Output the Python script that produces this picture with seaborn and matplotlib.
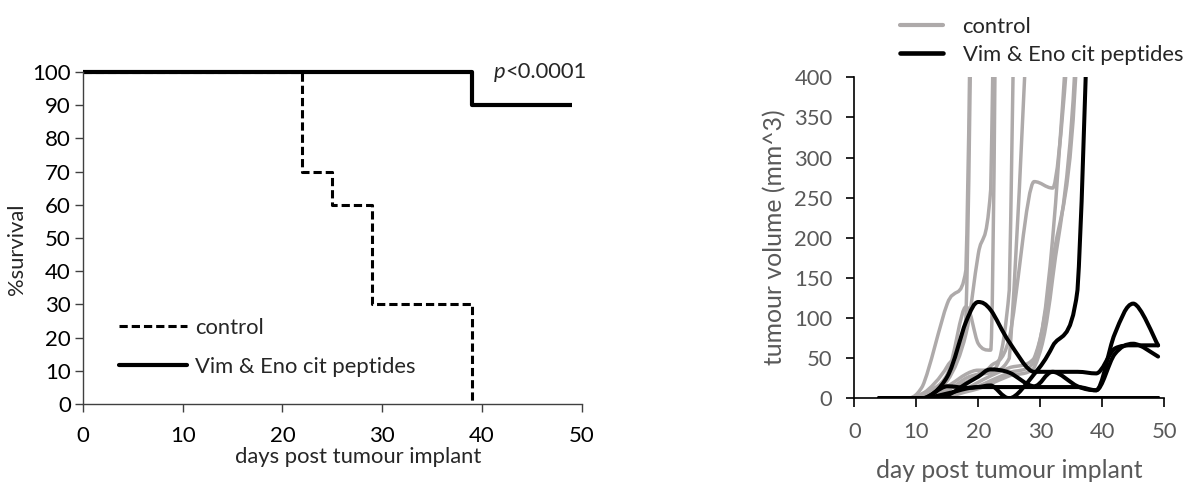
import numpy as np
import pandas as pd
import matplotlib
matplotlib.use("Agg")
import matplotlib.pyplot as plt
import seaborn as sns
from matplotlib.path import Path
from matplotlib.patches import PathPatch
from matplotlib.lines import Line2D

# ---------------- data ----------------
groups = ["control", "Vim & Eno cit peptides"]

# Kaplan-Meier survival (step plot)
ctrl_surv_days = [0, 22, 25, 29, 39]
ctrl_surv_pct = [100, 70, 60, 30, 0]
trt_surv_days = [0, 39, 49]
trt_surv_pct = [100, 90, 90]
p_label = "<0.0001"

# Tumour growth per mouse (mm^3); a series stops once the mouse is culled
tumour_days = [4, 8, 11, 15, 18, 20, 22, 25, 29, 32, 36, 39, 42, 45, 49]

ctrl_1 = [0, 0, 15, 118, 160, 1400]
ctrl_2 = [0, 0, 5, 40, 100, 1300]
ctrl_3 = [0, 0, 6, 30, 114, 68, 60, 3000]
ctrl_4 = [0, 0, 3, 22, 80, 180, 260, 2000]
ctrl_5 = [0, 0, 2, 15, 30, 35, 35, 135, 2500]
ctrl_6 = [0, 0, 2, 10, 25, 30, 32, 50, 650]
ctrl_7 = [0, 0, 2, 12, 20, 30, 40, 75, 270, 262, 600]
ctrl_8 = [0, 0, 0, 5, 12, 20, 28, 38, 50, 170, 450, 1500]
ctrl_9 = [0, 0, 0, 3, 10, 15, 22, 32, 45, 200, 650]
ctrl_10 = [0, 0, 0, 2, 8, 12, 18, 28, 38, 150, 480, 1500]

trt_1 = [0, 0, 0, 27, 95, 120, 110, 70, 33, 33, 33, 31, 62, 66, 66]
trt_2 = [0, 0, 0, 4, 18, 27, 36, 32, 15, 33, 15, 10, 80, 118, 66]
trt_3 = [0, 0, 0, 6, 12, 14, 14, 14, 14, 14, 14, 10, 55, 68, 52]
trt_4 = [0, 0, 0, 15, 13, 14, 16, 0, 30, 65, 135, 900]
trt_5 = [0] * 15
trt_6 = [0] * 15
trt_7 = [0] * 15
trt_8 = [0] * 15
trt_9 = [0] * 15
trt_10 = [0] * 15

control_mice = [ctrl_1, ctrl_2, ctrl_3, ctrl_4, ctrl_5,
                ctrl_6, ctrl_7, ctrl_8, ctrl_9, ctrl_10]
treated_mice = [trt_1, trt_2, trt_3, trt_4, trt_5,
                trt_6, trt_7, trt_8, trt_9, trt_10]

# ---------------- style ----------------
sns.set_theme(style="white")
plt.rcParams["font.family"] = ["Lato", "DejaVu Sans"]

W, H = 1192, 484
fig = plt.figure(figsize=(W / 100, H / 100), dpi=100)


def box(l, t, r, b):
    return [l / W, 1 - b / H, (r - l) / W, (b - t) / H]


ax1 = fig.add_axes(box(83, 72, 581.5, 404))
ax2 = fig.add_axes(box(854.3, 77.3, 1164.3, 398.3))

# ---------------- survival panel ----------------
surv = pd.DataFrame({
    "day": ctrl_surv_days + trt_surv_days,
    "survival": ctrl_surv_pct + trt_surv_pct,
    "group": [groups[0]] * len(ctrl_surv_days) + [groups[1]] * len(trt_surv_days),
})
dash_ctrl = (2.7, 1.3)
sns.lineplot(data=surv, x="day", y="survival", hue="group", style="group",
             size="group", palette={groups[0]: "black", groups[1]: "black"},
             dashes={groups[0]: dash_ctrl, groups[1]: ""},
             sizes={groups[0]: 2.2, groups[1]: 3.0},
             drawstyle="steps-post", estimator=None, legend=False, ax=ax1)
for ln in ax1.lines:
    ln.set_clip_on(False)
    ln.set_solid_capstyle("butt")

ax1.set_xlim(0, 50)
ax1.set_ylim(0, 100)
ax1.set_xticks(np.arange(0, 51, 10))
ax1.set_yticks(np.arange(0, 101, 10))
ax1.set_xlabel("")
ax1.set_ylabel("")
axis_col = "#404040"
for s in ["top", "right"]:
    ax1.spines[s].set_visible(False)
for s in ["left", "bottom"]:
    ax1.spines[s].set_color(axis_col)
    ax1.spines[s].set_linewidth(1.0)
ax1.tick_params(axis="x", bottom=True, direction="out", length=5.8, width=1,
                color=axis_col, labelsize=16, pad=10, labelcolor="black")
ax1.tick_params(axis="y", left=True, direction="out", length=5.8, width=1,
                color=axis_col, labelsize=16, pad=3, labelcolor="black")

lab_size = 15.8
fig.text(358 / W, 1 - 457 / H, "days post tumour implant", ha="center",
         va="center", fontsize=lab_size)
fig.text(17 / W, 1 - 249 / H, "%survival", ha="center", va="center",
         rotation=90, fontsize=lab_size)

p_txt = ax1.text(50.5, 100, p_label, ha="right", va="center",
                 fontsize=lab_size, clip_on=False)
ax1.annotate("p", xy=(0, 0.5), xycoords=p_txt, ha="right", va="center",
             fontsize=lab_size, style="italic")

ax1.legend(handles=[Line2D([], [], color="black", lw=2.2, dashes=dash_ctrl),
                    Line2D([], [], color="black", lw=3.0)],
           labels=groups, loc="upper left",
           bbox_to_anchor=(119 / W, 1 - 318 / H),
           bbox_transform=fig.transFigure, frameon=False, fontsize=lab_size,
           handlelength=3.1, handletextpad=0.36, labelspacing=0.87,
           borderpad=0, borderaxespad=0)

# ---------------- tumour growth panel ----------------
grey = "#AEAAAA"


def smooth_curve(xs, ys):
    """Cubic Bezier path through the points, without overshooting them."""
    pts = np.column_stack([xs, ys]).astype(float)
    n = len(pts)
    tang = np.zeros_like(pts)
    for i in range(n):
        prev = pts[max(i - 1, 0)]
        nxt = pts[min(i + 1, n - 1)]
        tang[i] = (nxt - prev) / 6
        if 0 < i < n - 1:
            if (pts[i, 1] - prev[1]) * (nxt[1] - pts[i, 1]) <= 0:
                tang[i, 1] = 0.0
    verts = [pts[0]]
    codes = [Path.MOVETO]
    for i in range(n - 1):
        lo = min(pts[i, 1], pts[i + 1, 1])
        hi = max(pts[i, 1], pts[i + 1, 1])
        c1 = pts[i] + tang[i]
        c2 = pts[i + 1] - tang[i + 1]
        c1[1] = np.clip(c1[1], lo, hi)
        c2[1] = np.clip(c2[1], lo, hi)
        verts += [c1, c2, pts[i + 1]]
        codes += [Path.CURVE4] * 3
    return Path(verts, codes)


def draw_mice(ax, mice, color, lw, z):
    for vals in mice:
        xs = tumour_days[:len(vals)]
        patch = PathPatch(smooth_curve(xs, vals), facecolor="none",
                          edgecolor=color, lw=lw, zorder=z,
                          capstyle="round", joinstyle="round")
        ax.add_patch(patch)


draw_mice(ax2, control_mice, grey, 2.5, 2)
draw_mice(ax2, treated_mice, "black", 2.9, 3)

ax2.set_xlim(0, 50)
ax2.set_ylim(0, 400)
ax2.set_xticks(np.arange(0, 51, 10))
ax2.set_yticks(np.arange(0, 401, 50))
for s in ["top", "right"]:
    ax2.spines[s].set_visible(False)
for s in ["left", "bottom"]:
    ax2.spines[s].set_color("black")
    ax2.spines[s].set_linewidth(1.2)
tick_col = "#595959"
ax2.tick_params(axis="x", bottom=True, direction="out", length=6.3, width=1.2,
                color="black", labelsize=15.8, pad=11, labelcolor=tick_col)
ax2.tick_params(axis="y", left=True, direction="out", length=5.8, width=1.2,
                color="black", labelsize=15.8, pad=10, labelcolor=tick_col)

fig.text(1009 / W, 1 - 470 / H, "day post tumour implant", ha="center",
         va="center", fontsize=17.8, color=tick_col)
fig.text(775 / W, 1 - 237 / H, "tumour volume (mm^3)", ha="center",
         va="center", rotation=90, fontsize=17.8, color=tick_col)

fig.legend(handles=[Line2D([], [], color=grey, lw=3.0),
                    Line2D([], [], color="black", lw=3.3)],
           labels=groups, loc="upper left",
           bbox_to_anchor=(900 / W, 1 - 17 / H), frameon=False,
           fontsize=lab_size, handlelength=1.95, handletextpad=0.9,
           labelspacing=0.37, borderpad=0, borderaxespad=0)

fig.savefig("out.png", dpi=100)
